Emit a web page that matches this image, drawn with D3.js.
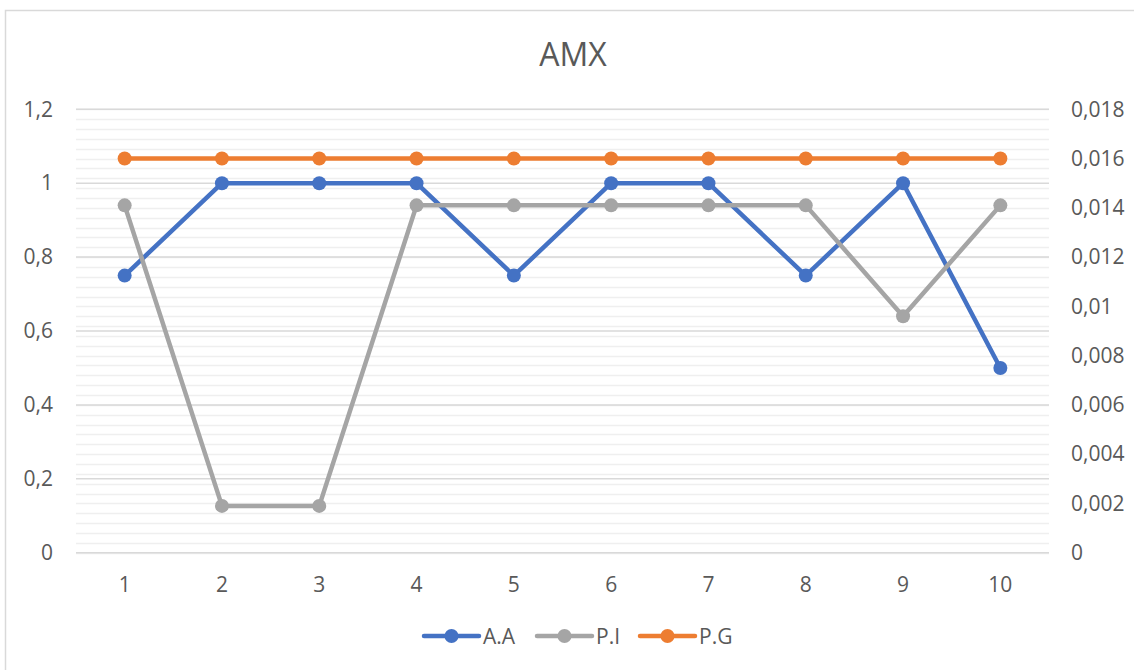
<!DOCTYPE html>
<html>
<head>
<meta charset="utf-8">
<script src="https://cdn.jsdelivr.net/npm/d3@7"></script>
<style>
  html, body { margin: 0; padding: 0; background: #fff; }
  svg { display: block; font-family: "Open Sans", Lato, "Liberation Sans", sans-serif; }
</style>
</head>
<body>
<svg id="chart" width="1134" height="670"></svg>
<script>
// Series data
const categories = [1, 2, 3, 4, 5, 6, 7, 8, 9, 10];
const seriesAA = [0.75, 1, 1, 1, 0.75, 1, 1, 0.75, 1, 0.5];          // primary axis
const seriesPI = [0.0141, 0.0019, 0.0019, 0.0141, 0.0141, 0.0141, 0.0141, 0.0141, 0.0096, 0.0141]; // secondary axis
const seriesPG = [0.016, 0.016, 0.016, 0.016, 0.016, 0.016, 0.016, 0.016, 0.016, 0.016];           // secondary axis
const leftTicks = [0, 0.2, 0.4, 0.6, 0.8, 1, 1.2];
const rightTicks = [0, 0.002, 0.004, 0.006, 0.008, 0.01, 0.012, 0.014, 0.016, 0.018];
const seriesNames = ["A.A", "P.I", "P.G"];
const seriesColors = ["#4472C4", "#A5A5A5", "#ED7D31"];

const svg = d3.select("#chart");
const plot = { left: 76, right: 1049, top: 109.3, bottom: 552.7 };
const textColor = "#595959";

// Chart frame
svg.append("rect")
  .attr("x", 5.5).attr("y", 10.5)
  .attr("width", 1140).attr("height", 680)
  .attr("fill", "#fff").attr("stroke", "#d9d9d9").attr("stroke-width", 1.5);

const x = d3.scaleBand().domain(categories).range([plot.left, plot.right]);
const xc = d => x(d) + x.bandwidth() / 2;
const yL = d3.scaleLinear().domain([0, 1.2]).range([plot.bottom, plot.top]);
const yR = d3.scaleLinear().domain([0, 0.018]).range([plot.bottom, plot.top]);

// Minor gridlines of the secondary axis
const minorTicks = d3.range(0, 0.01801, 0.0004);
svg.append("g").selectAll("line").data(minorTicks).join("line")
  .attr("x1", plot.left).attr("x2", plot.right)
  .attr("y1", d => Math.round(yR(d)) + 0.5).attr("y2", d => Math.round(yR(d)) + 0.5)
  .attr("stroke", "#efefef").attr("stroke-width", 1.5);

// Major gridlines of the primary axis
svg.append("g").selectAll("line").data(leftTicks).join("line")
  .attr("x1", plot.left).attr("x2", plot.right)
  .attr("y1", d => yL(d)).attr("y2", d => yL(d))
  .attr("stroke", "#d9d9d9").attr("stroke-width", 1.5);

// Axes (labels only, no axis lines)
const fmt = v => String(v).replace(".", ",");
const leftAxis = svg.append("g").attr("transform", `translate(${plot.left},0)`)
  .call(d3.axisLeft(yL).tickValues(leftTicks).tickFormat(fmt).tickSize(0).tickPadding(23));
const rightAxis = svg.append("g").attr("transform", `translate(${plot.right},0)`)
  .call(d3.axisRight(yR).tickValues(rightTicks).tickFormat(fmt).tickSize(0).tickPadding(22));
const bottomAxis = svg.append("g").attr("transform", `translate(0,${plot.bottom})`)
  .call(d3.axisBottom(x).tickFormat(d => d).tickSize(0).tickPadding(24));
[leftAxis, rightAxis, bottomAxis].forEach(g => {
  g.select(".domain").remove();
  g.selectAll("text").attr("fill", textColor)
    .style("font-family", "'Open Sans', sans-serif").style("font-size", "21px");
});

// Lines and markers
const lines = [
  { values: seriesAA, scale: yL, color: seriesColors[0] },
  { values: seriesPI, scale: yR, color: seriesColors[1] },
  { values: seriesPG, scale: yR, color: seriesColors[2] }
];
[lines[2], lines[0], lines[1]].forEach(s => {
  const pts = categories.map((c, i) => [xc(c), s.scale(s.values[i])]);
  svg.append("path")
    .attr("d", d3.line()(pts))
    .attr("fill", "none").attr("stroke", s.color)
    .attr("stroke-width", 4.5).attr("stroke-linejoin", "round").attr("stroke-linecap", "round");
  svg.append("g").selectAll("circle").data(pts).join("circle")
    .attr("cx", d => d[0]).attr("cy", d => d[1]).attr("r", 7)
    .attr("fill", s.color);
});

// Title
svg.append("text")
  .attr("x", 573).attr("y", 66)
  .attr("text-anchor", "middle")
  .attr("fill", textColor).style("font-size", "32px")
  .text("AMX");

// Legend
const legendItems = [
  { name: seriesNames[0], color: seriesColors[0], x0: 424 },
  { name: seriesNames[1], color: seriesColors[1], x0: 537 },
  { name: seriesNames[2], color: seriesColors[2], x0: 640 }
];
const lg = svg.append("g");
legendItems.forEach(it => {
  const g = lg.append("g");
  g.append("line").attr("x1", it.x0).attr("x2", it.x0 + 55)
    .attr("y1", 636).attr("y2", 636)
    .attr("stroke", it.color).attr("stroke-width", 4.5).attr("stroke-linecap", "round");
  g.append("circle").attr("cx", it.x0 + 27.5).attr("cy", 636).attr("r", 7).attr("fill", it.color);
  g.append("text").attr("x", it.x0 + 59).attr("y", 643.5)
    .attr("fill", textColor).style("font-size", "21px").text(it.name);
});
</script>
</body>
</html>
